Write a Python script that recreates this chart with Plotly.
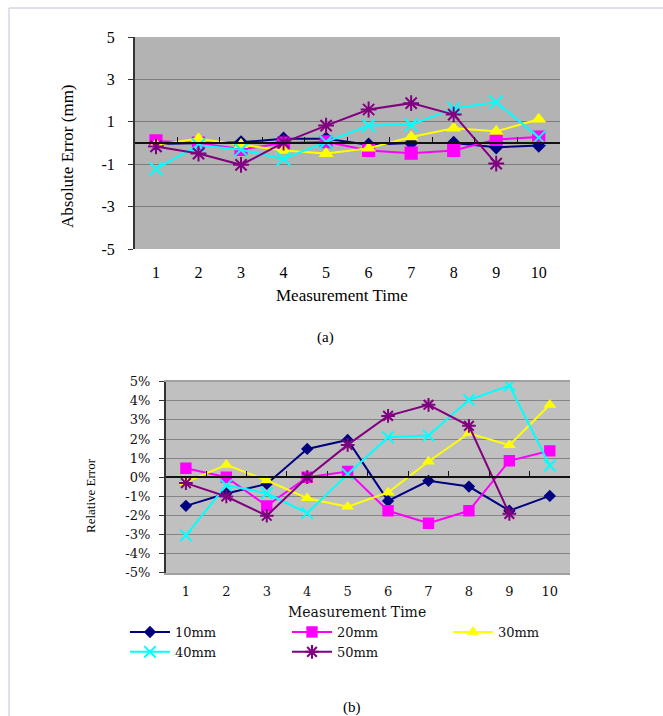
import plotly.graph_objects as go

W, H = 663, 716

# ---------------- data ----------------
times = [1, 2, 3, 4, 5, 6, 7, 8, 9, 10]
series_names = ["10mm", "20mm", "30mm", "40mm", "50mm"]

abs_10 = [-0.05, -0.02, 0.03, 0.2, 0.2, -0.08, 0.0, 0.0, -0.2, -0.12]
abs_20 = [0.1, 0.0, -0.3, 0.0, 0.06, -0.35, -0.48, -0.35, 0.17, 0.28]
abs_30 = [-0.08, 0.2, -0.08, -0.35, -0.5, -0.25, 0.28, 0.7, 0.55, 1.12]
abs_40 = [-1.22, -0.1, -0.32, -0.75, 0.05, 0.82, 0.86, 1.63, 1.93, 0.26]
abs_50 = [-0.16, -0.5, -1.03, 0.02, 0.82, 1.58, 1.88, 1.34, -0.97, None]

rel_10 = [-1.5, -0.85, -0.35, 1.48, 1.95, -1.24, -0.19, -0.49, -1.75, -0.98]
rel_20 = [0.47, 0.0, -1.5, 0.0, 0.3, -1.76, -2.41, -1.76, 0.86, 1.38]
rel_30 = [-0.26, 0.65, -0.17, -1.1, -1.54, -0.8, 0.82, 2.3, 1.68, 3.79]
rel_40 = [-3.05, -0.42, -0.84, -1.88, 0.16, 2.09, 2.18, 4.05, 4.8, 0.61]
rel_50 = [-0.31, -1.01, -2.02, 0.0, 1.69, 3.21, 3.79, 2.69, -1.92, None]

abs_ticks = [-5, -3, -1, 1, 3, 5]
abs_tick_labels = ["-5", "-3", "-1", "1", "3", "5"]
rel_ticks = [-5, -4, -3, -2, -1, 0, 1, 2, 3, 4, 5]
rel_tick_labels = ["-5%", "-4%", "-3%", "-2%", "-1%", "0%", "1%", "2%", "3%", "4%", "5%"]
boundaries = [1.5, 2.5, 3.5, 4.5, 5.5, 6.5, 7.5, 8.5, 9.5]

abs_data = [abs_10, abs_20, abs_30, abs_40, abs_50]
rel_data = [rel_10, rel_20, rel_30, rel_40, rel_50]

# ---------------- styles ----------------
colors = ["#000080", "#FF00FF", "#FFFF00", "#00FFFF", "#800080"]
symbols = ["diamond", "square", "triangle-up", "x-thin", "asterisk"]
msizes = [10, 12, 12, 12, 12]
legend_of = ["legend", "legend2", "legend3", "legend", "legend2"]

SERIF = "Liberation Serif, Times New Roman, serif"
SERIF2 = "DejaVu Serif, serif"


def px_x(p):
    return p / W


def px_y(p):
    return 1 - p / H


def marker_for(i, scale=1.0):
    s = symbols[i]
    if s in ("x-thin", "asterisk"):
        return dict(symbol=s, size=msizes[i] * scale, color=colors[i],
                    line=dict(color=colors[i], width=2))
    return dict(symbol=s, size=msizes[i] * scale, color=colors[i],
                line=dict(width=0))


fig = go.Figure()

for i, name in enumerate(series_names):
    fig.add_trace(go.Scatter(
        x=times, y=abs_data[i], mode="lines+markers", name=name,
        line=dict(color=colors[i], width=2), marker=marker_for(i, 1.1),
        xaxis="x", yaxis="y", showlegend=False, connectgaps=False,
    ))

for i, name in enumerate(series_names):
    fig.add_trace(go.Scatter(
        x=times, y=rel_data[i], mode="lines+markers", name=name,
        line=dict(color=colors[i], width=2), marker=marker_for(i, 0.95),
        xaxis="x2", yaxis="y2", showlegend=True, connectgaps=False,
        legend=legend_of[i],
    ))

# dummy traces to activate zero-line overlay axes
fig.add_trace(go.Scatter(x=[None], y=[None], xaxis="x3", yaxis="y",
                         showlegend=False, hoverinfo="skip"))
fig.add_trace(go.Scatter(x=[None], y=[None], xaxis="x4", yaxis="y2",
                         showlegend=False, hoverinfo="skip"))

# domains (pixels)
top_x = [px_x(134.7), px_x(560)]
top_y = [px_y(249), px_y(37)]
bot_x = [px_x(165.7), px_x(570)]
bot_y = [px_y(572.7), px_y(381.7)]

legend_font = dict(family=SERIF2, size=13, color="#111111")


def legend_at(xpx, ypx):
    return dict(orientation="v", x=px_x(xpx), xanchor="left",
                y=px_y(ypx), yanchor="top", itemwidth=40,
                tracegroupgap=0, font=legend_font,
                bgcolor="rgba(0,0,0,0)", borderwidth=0)


fig.update_layout(
    width=W, height=H,
    margin=dict(l=0, r=0, t=0, b=0, pad=0, autoexpand=False),
    paper_bgcolor="white",
    plot_bgcolor="#b3b3b3",
    font=dict(family=SERIF, color="black"),
    xaxis=dict(domain=top_x, anchor="y", range=[0.5, 10.5],
               tickvals=times, ticktext=[str(t) for t in times],
               showgrid=False, zeroline=False, showline=False, ticks="",
               ticklabelstandoff=12, automargin=False,
               tickfont=dict(family=SERIF, size=16, color="black")),
    yaxis=dict(domain=top_y, anchor="x", range=[-5, 5],
               tickvals=abs_ticks, ticktext=abs_tick_labels,
               showgrid=True, gridcolor="#7d7d7d", gridwidth=1,
               zeroline=False, showline=True, linecolor="#333333", linewidth=1.5,
               ticks="outside", ticklen=5, tickcolor="#333333",
               ticklabelstandoff=10, automargin=False,
               tickfont=dict(family=SERIF, size=16, color="black")),
    xaxis3=dict(overlaying="x", anchor="free", position=(top_y[0] + top_y[1]) / 2,
                range=[0.5, 10.5], tickvals=boundaries, showticklabels=False,
                showgrid=False, zeroline=False, showline=True, automargin=False,
                linecolor="#111111", linewidth=1.5,
                ticks="inside", ticklen=5, tickcolor="#111111"),
    xaxis2=dict(domain=bot_x, anchor="y2", range=[0.5, 10.5],
                tickvals=times, ticktext=[str(t) for t in times],
                showgrid=False, zeroline=False, showline=True, mirror=True,
                linecolor="#a0a0a0", linewidth=1.5, ticks="",
                ticklabelstandoff=6, automargin=False,
                tickfont=dict(family=SERIF2, size=13, color="#111111")),
    yaxis2=dict(domain=bot_y, anchor="x2", range=[-5, 5],
                tickvals=rel_ticks, ticktext=rel_tick_labels,
                showgrid=True, gridcolor="#858585", gridwidth=1,
                zeroline=False, showline=True, linecolor="#333333", linewidth=1.5,
                mirror=False, automargin=False,
                ticks="outside", ticklen=5, tickcolor="#333333",
                ticklabelstandoff=6,
                tickfont=dict(family=SERIF2, size=13, color="#111111")),
    xaxis4=dict(overlaying="x2", anchor="free", position=(bot_y[0] + bot_y[1]) / 2,
                range=[0.5, 10.5], tickvals=boundaries, showticklabels=False,
                showgrid=False, zeroline=False, showline=True, automargin=False,
                linecolor="#111111", linewidth=1.5,
                ticks="inside", ticklen=5, tickcolor="#111111"),
    legend=legend_at(125, 617),
    legend2=legend_at(287, 617),
    legend3=legend_at(448, 617),
    showlegend=True,
)

# bottom plot background differs
fig.add_shape(type="rect", xref="x2 domain", yref="y2 domain",
              x0=0, x1=1, y0=0, y1=1, fillcolor="#c0c0c0",
              line=dict(width=0), layer="below")

annotations = [
    dict(text="Absolute Error (mm)", x=px_x(68), y=px_y(156), textangle=-90,
         font=dict(family=SERIF, size=17, color="black")),
    dict(text="Measurement Time", x=px_x(342), y=px_y(295),
         font=dict(family=SERIF, size=17, color="black")),
    dict(text="(a)", x=px_x(325), y=px_y(337),
         font=dict(family=SERIF, size=15, color="black")),
    dict(text="Relative Error", x=px_x(90), y=px_y(496), textangle=-90,
         font=dict(family=SERIF, size=13, color="black")),
    dict(text="Measurement Time", x=px_x(357), y=px_y(612),
         font=dict(family=SERIF2, size=14, color="#111111")),
    dict(text="(b)", x=px_x(352), y=px_y(707),
         font=dict(family=SERIF, size=15, color="black")),
]
for a in annotations:
    a.update(xref="paper", yref="paper", showarrow=False,
             xanchor="center", yanchor="middle")
fig.update_layout(annotations=annotations)

# page frame lines
fig.add_shape(type="line", xref="paper", yref="paper",
              x0=px_x(9), x1=px_x(9), y0=px_y(8), y1=0,
              line=dict(color="#c4bfdc", width=1))
fig.add_shape(type="line", xref="paper", yref="paper",
              x0=px_x(9), x1=1, y0=px_y(8), y1=px_y(8),
              line=dict(color="#c4bfdc", width=1))

fig.write_html(
    "out.html",
    config={"displayModeBar": False},
    post_script="document.body.style.margin='0px';document.body.style.overflow='hidden';",
)
